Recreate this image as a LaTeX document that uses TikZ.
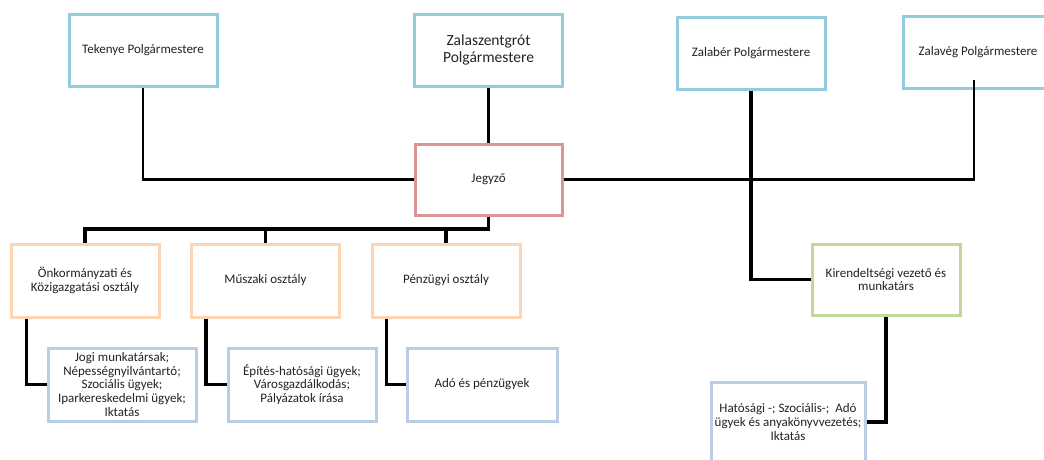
\documentclass[tikz,border=0pt]{standalone}
\usepackage{fontspec}
\setmainfont{Carlito}
\definecolor{bluebox}{RGB}{147,205,221}
\definecolor{redbox}{RGB}{217,150,148}
\definecolor{orangebox}{RGB}{252,213,181}
\definecolor{greenbox}{RGB}{195,214,155}
\definecolor{steelbox}{RGB}{185,205,229}
\definecolor{txt}{RGB}{35,35,40}
\tikzset{
  box/.style={draw, line width=3pt, inner sep=0pt, minimum width=#1, minimum height=72pt,
    align=center, text=txt, font=\fontsize{13}{13.8}\selectfont},
  mayor/.style={box=148pt, draw=bluebox},
  dept/.style={box=148pt, draw=orangebox, minimum height=73pt},
  task/.style={box=148pt, draw=steelbox, minimum height=73pt},
  conn/.style={line width=2.5pt, line join=miter},
  thick conn/.style={line width=3.8pt, line join=miter}
}
\begin{document}
\begin{tikzpicture}[x=1pt,y=-1pt]
\useasboundingbox (0,0) rectangle (1044,459);
\clip (0,0) rectangle (1044,459);
\fill[white] (0,0) rectangle (1044,459);
% top row
\node[mayor] (tek) at (143,50) {Tekenye Polgármestere};
\node[mayor, font=\fontsize{15.5}{16.5}\selectfont] (zsz) at (488.5,50) {Zalaszentgrót\\Polgármestere};
\node[mayor] (zbr) at (751,53) {Zalabér Polgármestere};
\node[mayor, minimum width=150pt] (zvg) at (978,52) {Zalavég Polgármestere};
% Jegyző
\node[box=147pt, draw=redbox, minimum height=71pt] (jeg) at (488.5,179.5) {Jegyző};
% departments
\node[dept] (onk) at (85,280.5) {Önkormányzati és\\Közigazgatási osztály};
\node[dept] (musz) at (265.5,280.5) {Műszaki osztály};
\node[dept] (penz) at (446,280.5) {Pénzügyi osztály};
% tasks
\node[task] (jogi) at (122,384.5) {Jogi munkatársak;\\Népességnyilvántartó;\\Szociális ügyek;\\Iparkereskedelmi ügyek;\\Iktatás};
\node[task] (epit) at (302,384.5) {Építés-hatósági ügyek;\\Városgazdálkodás;\\Pályázatok írása};
\node[task, minimum width=150pt] (ado) at (482,384.5) {Adó és pénzügyek};
% Kirendeltség
\node[box=148pt, draw=greenbox, minimum height=71pt] (kir) at (886,279.5) {Kirendeltségi vezető és\\munkatárs};
\node[box=154pt, draw=steelbox, minimum height=80pt] (hat) at (788,422) {Hatósági -; Szociális-;~ Adó\\ügyek és anyakönyvvezetés;\\Iktatás};
% helper coordinates
\coordinate (zvgc) at (974,80);
\coordinate (bus) at (0,229);
% connectors
\draw[conn] (tek.south) |- (jeg.west);
\draw[thick conn] (zsz.south) -- (jeg.north);
\draw[conn] (jeg.east) -| (zvgc);
\draw[thick conn] (zbr.south) |- (kir.west);
\draw[thick conn] (jeg.south) -- (jeg.south |- bus) -| (onk.north);
\draw[thick conn] (musz.north) -- (musz.north |- bus);
\draw[thick conn] (penz.north) -- (penz.north |- bus);
\draw[thick conn] ([xshift=17pt]onk.south west) |- (jogi.west);
\draw[thick conn] ([xshift=16pt]musz.south west) |- (epit.west);
\draw[thick conn] ([xshift=16pt]penz.south west) |- (ado.west);
\draw[thick conn] (kir.south) |- (hat.east);
\end{tikzpicture}
\end{document}
